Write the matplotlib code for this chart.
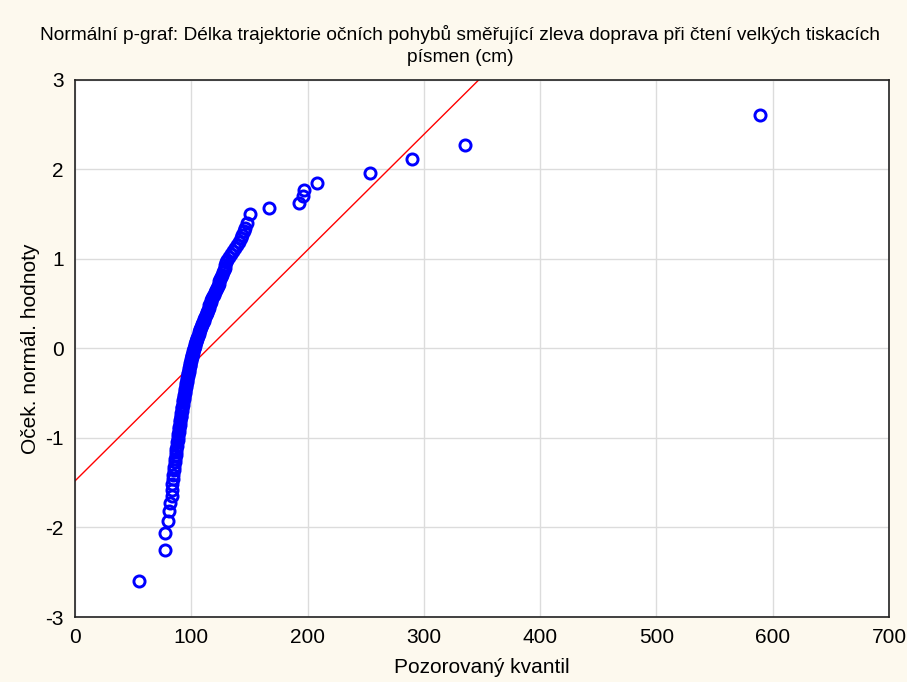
import matplotlib
matplotlib.use('Agg')
import matplotlib.pyplot as plt

# observed quantiles (cm), sorted
kvantil = [
    55.0, 77.0, 77.5, 80.0, 81.0, 82.0, 83.0, 83.5, 83.8, 84.0,
    84.3, 84.8, 85.3, 85.8, 86.2, 86.5, 86.8, 87.2, 87.5, 87.9,
    88.2, 88.6, 88.9, 89.2, 89.5, 89.7, 90.0, 90.3, 90.5, 90.8,
    91.0, 91.3, 91.6, 92.0, 92.3, 92.6, 92.9, 93.2, 93.5, 93.8,
    94.0, 94.3, 94.6, 94.9, 95.2, 95.5, 95.8, 96.0, 96.3, 96.6,
    96.9, 97.2, 97.5, 97.8, 98.1, 98.4, 98.7, 99.0, 99.3, 99.6,
    100.0, 100.3, 100.7, 101.0, 101.3, 101.6, 102.0, 102.4, 102.8, 103.3,
    103.8, 104.2, 104.7, 105.2, 105.7, 106.2, 106.8, 107.3, 107.9, 108.4,
    109.0, 109.5, 110.1, 110.7, 111.3, 111.9, 112.5, 113.1, 113.7, 114.3,
    114.9, 115.5, 116.1, 116.7, 117.3, 118.0, 118.7, 119.4, 120.2, 121.0,
    121.8, 122.6, 123.4, 124.2, 125.0, 125.8, 126.5, 127.2, 127.9, 128.6,
    129.3, 130.1, 131.0, 132.5, 134.0, 135.5, 137.5, 139.5, 141.0, 142.5,
    144.0, 145.5, 146.5, 148.0, 150.5, 167.0, 193.0, 196.0, 197.0, 208.0,
    254.0, 290.0, 335.0, 589.0,
]

# expected normal values
hodnoty = [
    -2.60, -2.25, -2.06, -1.93, -1.82, -1.73, -1.65, -1.58, -1.52, -1.46,
    -1.41, -1.36, -1.32, -1.27, -1.23, -1.19, -1.16, -1.12, -1.09, -1.05,
    -1.02, -0.99, -0.96, -0.93, -0.90, -0.88, -0.85, -0.82, -0.80, -0.77,
    -0.75, -0.72, -0.70, -0.67, -0.65, -0.63, -0.60, -0.58, -0.56, -0.54,
    -0.52, -0.50, -0.48, -0.45, -0.43, -0.41, -0.39, -0.37, -0.35, -0.33,
    -0.31, -0.29, -0.27, -0.26, -0.24, -0.22, -0.20, -0.18, -0.16, -0.14,
    -0.12, -0.10, -0.08, -0.07, -0.05, -0.03, -0.01, 0.01, 0.03, 0.05,
    0.07, 0.08, 0.10, 0.12, 0.14, 0.16, 0.18, 0.20, 0.22, 0.24,
    0.26, 0.27, 0.29, 0.31, 0.33, 0.35, 0.37, 0.39, 0.41, 0.43,
    0.45, 0.48, 0.50, 0.52, 0.54, 0.56, 0.58, 0.60, 0.63, 0.65,
    0.67, 0.70, 0.72, 0.75, 0.77, 0.80, 0.82, 0.85, 0.88, 0.90,
    0.93, 0.96, 0.99, 1.02, 1.05, 1.09, 1.12, 1.16, 1.19, 1.23,
    1.27, 1.31, 1.35, 1.40, 1.50, 1.57, 1.62, 1.70, 1.77, 1.85,
    1.96, 2.11, 2.27, 2.61,
]

# reference line y = a + b*x
usek = -1.48
smernice = 0.0129

xticks = [0, 100, 200, 300, 400, 500, 600, 700]
yticks = [-3, -2, -1, 0, 1, 2, 3]

plt.rcParams['font.family'] = ['Liberation Sans', 'DejaVu Sans']
plt.rcParams['axes.unicode_minus'] = False

fig = plt.figure(figsize=(9.07, 6.82), dpi=100, facecolor='#fdf9ee')
ax = fig.add_axes([0.0827, 0.0953, 0.8975, 0.7877])
ax.set_facecolor('white')

ax.grid(True, color='#dcdcdc', linewidth=1.0)
ax.set_axisbelow(True)

ax.plot([xticks[0], xticks[-1]],
        [usek + smernice * xticks[0], usek + smernice * xticks[-1]],
        color='red', linewidth=1.0, zorder=2)
ax.plot(kvantil, hodnoty, linestyle='none', marker='o', markersize=8,
        markerfacecolor='none', markeredgecolor='#0000ff', markeredgewidth=2.1,
        zorder=3)

ax.set_xlim(0, 700)
ax.set_ylim(-3, 3)
ax.set_xticks(xticks)
ax.set_yticks(yticks)
ax.tick_params(length=0, labelsize=15, pad=8)
for s in ax.spines.values():
    s.set_color('#222222')
    s.set_linewidth(1.2)

fig.text(0.507, 0.933,
         'Normální p-graf: Délka trajektorie očních pohybů směřující zleva doprava při čtení velkých tiskacích\npísmen (cm)',
         fontsize=13.8, ha='center', va='center', linespacing=1.4)
ax.set_xlabel('Pozorovaný kvantil', fontsize=15, labelpad=8)
ax.set_ylabel('Oček. normál. hodnoty', fontsize=15, labelpad=4)

fig.savefig('out.png', dpi=100, facecolor=fig.get_facecolor())
